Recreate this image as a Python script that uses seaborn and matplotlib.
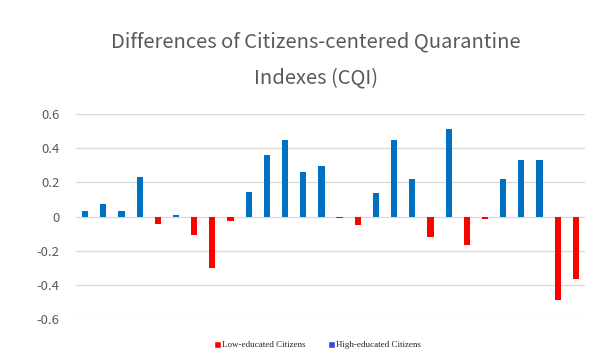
import numpy as np
import pandas as pd
import seaborn as sns
import matplotlib.pyplot as plt
from matplotlib.patches import Patch

# CQI differences, one per indicator
idx = list(range(1, 29))
diffs = [0.03, 0.076, 0.035, 0.234, -0.045, 0.006, -0.11, -0.30, -0.027, 0.146,
         0.36, 0.445, 0.263, 0.298, -0.01, -0.05, 0.14, 0.45, 0.22, -0.12,
         0.515, -0.165, -0.015, 0.22, 0.333, 0.333, -0.49, -0.368]
groups = ["Low-educated Citizens", "High-educated Citizens"]
yticks = [-0.6, -0.4, -0.2, 0, 0.2, 0.4, 0.6]
ylabels = ["-0.6", "-0.4", "-0.2", "0", "0.2", "0.4", "0.6"]

red = "#FF0000"
blue = "#0070C0"
grey = "#595959"

df = pd.DataFrame({"idx": idx, "diff": diffs})
df["group"] = np.where(df["diff"] < 0, groups[0], groups[1])

sns.set_theme(style="white")
plt.rcParams["font.family"] = ["Noto Sans CJK KR", "DejaVu Sans"]

fg = plt.figure(figsize=(6.1, 3.55), dpi=100)
ax = fg.add_axes([76/610, 36/355, 509/610, 205/355])

sns.barplot(data=df, x="idx", y="diff", hue="group",
    palette={groups[0]: red, groups[1]: blue}, saturation=1,
    dodge=False, width=0.34, linewidth=0, legend=False, ax=ax)

ax.set_ylim(-0.6, 0.6)
ax.set_yticks(yticks)
ax.set_yticklabels(ylabels, color=grey, fontsize=9.5)
ax.set_xticks([])
ax.set_xlabel("")
ax.set_ylabel("")
ax.tick_params(axis="y", length=0, pad=12)
for s in ax.spines.values():
    s.set_visible(False)
ax.set_axisbelow(True)
ax.yaxis.grid(True, color="#D9D9D9", linewidth=0.9)

fg.text(0.518, 0.83, "Differences of Citizens-centered Quarantine\nIndexes (CQI)",
    ha="center", va="center", fontsize=14.5, color=grey, linespacing=1.95)

handles = [Patch(facecolor=red), Patch(facecolor="#3F48CC")]
fg.legend(handles, groups, loc="center", bbox_to_anchor=(0.52, 0.028),
    ncol=2, frameon=False, prop={"family": "Liberation Serif", "size": 6.5},
    handlelength=0.8, handleheight=0.8, handletextpad=0.1, columnspacing=2.5)

plt.savefig("out.png", dpi=100)
